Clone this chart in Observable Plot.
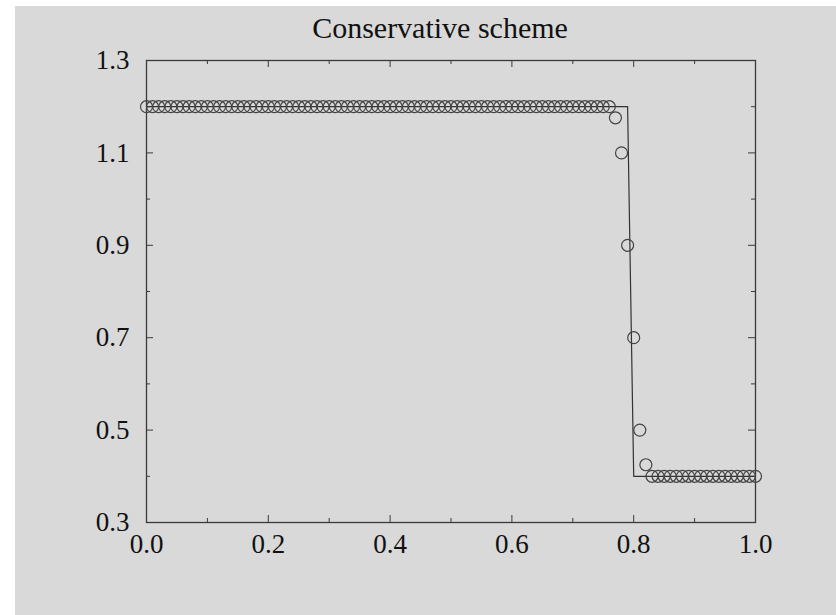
<!DOCTYPE html>
<html>
<head>
<meta charset="utf-8">
<script src="https://cdn.jsdelivr.net/npm/d3@7"></script>
<script src="https://cdn.jsdelivr.net/npm/@observablehq/plot@0.6"></script>
<style>
  html, body { margin: 0; padding: 0; background: #ffffff; }
  #chart svg { display: block; margin: 6px 0 0 15px; }
</style>
</head>
<body>
<div id="chart"></div>
<script>
const title = "Conservative scheme";

// numerical solution (circles)
const xs = [
  0.00, 0.01, 0.02, 0.03, 0.04, 0.05, 0.06, 0.07, 0.08, 0.09,
  0.10, 0.11, 0.12, 0.13, 0.14, 0.15, 0.16, 0.17, 0.18, 0.19,
  0.20, 0.21, 0.22, 0.23, 0.24, 0.25, 0.26, 0.27, 0.28, 0.29,
  0.30, 0.31, 0.32, 0.33, 0.34, 0.35, 0.36, 0.37, 0.38, 0.39,
  0.40, 0.41, 0.42, 0.43, 0.44, 0.45, 0.46, 0.47, 0.48, 0.49,
  0.50, 0.51, 0.52, 0.53, 0.54, 0.55, 0.56, 0.57, 0.58, 0.59,
  0.60, 0.61, 0.62, 0.63, 0.64, 0.65, 0.66, 0.67, 0.68, 0.69,
  0.70, 0.71, 0.72, 0.73, 0.74, 0.75, 0.76, 0.77, 0.78, 0.79,
  0.80, 0.81, 0.82, 0.83, 0.84, 0.85, 0.86, 0.87, 0.88, 0.89,
  0.90, 0.91, 0.92, 0.93, 0.94, 0.95, 0.96, 0.97, 0.98, 0.99,
  1.00
];
const ys = [
  1.2, 1.2, 1.2, 1.2, 1.2, 1.2, 1.2, 1.2, 1.2, 1.2,
  1.2, 1.2, 1.2, 1.2, 1.2, 1.2, 1.2, 1.2, 1.2, 1.2,
  1.2, 1.2, 1.2, 1.2, 1.2, 1.2, 1.2, 1.2, 1.2, 1.2,
  1.2, 1.2, 1.2, 1.2, 1.2, 1.2, 1.2, 1.2, 1.2, 1.2,
  1.2, 1.2, 1.2, 1.2, 1.2, 1.2, 1.2, 1.2, 1.2, 1.2,
  1.2, 1.2, 1.2, 1.2, 1.2, 1.2, 1.2, 1.2, 1.2, 1.2,
  1.2, 1.2, 1.2, 1.2, 1.2, 1.2, 1.2, 1.2, 1.2, 1.2,
  1.2, 1.2, 1.2, 1.2, 1.2, 1.2, 1.2, 1.176, 1.1, 0.9,
  0.7, 0.5, 0.425, 0.4, 0.4, 0.4, 0.4, 0.4, 0.4, 0.4,
  0.4, 0.4, 0.4, 0.4, 0.4, 0.4, 0.4, 0.4, 0.4, 0.4,
  0.4
];

// exact solution (line)
const exactX = [0.0, 0.79, 0.80, 1.0];
const exactY = [1.2, 1.2, 0.4, 0.4];

// ticks
const xMajor = [0.0, 0.2, 0.4, 0.6, 0.8, 1.0];
const xMinor = [0.1, 0.3, 0.5, 0.7, 0.9];
const yMajor = [0.3, 0.5, 0.7, 0.9, 1.1, 1.3];
const yMinor = [0.4, 0.6, 0.8, 1.0, 1.2];

const numeric = xs.map((x, i) => ({x, y: ys[i]}));
const exact = exactX.map((x, i) => ({x, y: exactY[i]}));

const W = 821, H = 609;
const mL = 131, mR = 81, mT = 54, mB = 93;
const fw = W - mL - mR, fh = H - mT - mB;
const major = 7, minor = 4;
const ink = "#3a3a3a";

const chart = Plot.plot({
  width: W,
  height: H,
  marginLeft: mL,
  marginRight: mR,
  marginTop: mT,
  marginBottom: mB,
  style: {background: "#d9d9d9", fontFamily: "'Liberation Serif', 'DejaVu Serif', serif", color: "#111"},
  x: {domain: [0, 1]},
  y: {domain: [0.3, 1.3]},
  marks: [
    Plot.frame({stroke: ink, strokeWidth: 1.3}),
    // inward ticks, bottom & top
    Plot.tickX(xMajor, {x: d => d, insetTop: fh - major, stroke: ink}),
    Plot.tickX(xMajor, {x: d => d, insetBottom: fh - major, stroke: ink}),
    Plot.tickX(xMinor, {x: d => d, insetTop: fh - minor, stroke: ink}),
    Plot.tickX(xMinor, {x: d => d, insetBottom: fh - minor, stroke: ink}),
    // inward ticks, left & right
    Plot.tickY(yMajor, {y: d => d, insetRight: fw - major, stroke: ink}),
    Plot.tickY(yMajor, {y: d => d, insetLeft: fw - major, stroke: ink}),
    Plot.tickY(yMinor, {y: d => d, insetRight: fw - minor, stroke: ink}),
    Plot.tickY(yMinor, {y: d => d, insetLeft: fw - minor, stroke: ink}),
    Plot.axisX(xMajor, {tickSize: 0, tickPadding: 11, tickFormat: d3.format(".1f"), fontSize: 27, fill: "#111", label: null}),
    Plot.axisY(yMajor, {tickSize: 0, tickPadding: 17, tickFormat: d3.format(".1f"), fontSize: 27, fill: "#111", label: null}),
    Plot.line(exact, {x: "x", y: "y", stroke: "#333", strokeWidth: 1.2}),
    Plot.dot(numeric, {x: "x", y: "y", r: 6, stroke: "#444", strokeWidth: 1.2, fill: "none"}),
    Plot.text([title], {text: d => d, frameAnchor: "top", dy: -32, dx: -11, fontSize: 30, fill: "#111", lineAnchor: "middle"})
  ]
});

document.getElementById("chart").appendChild(chart);
</script>
</body>
</html>
